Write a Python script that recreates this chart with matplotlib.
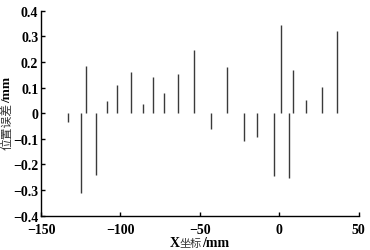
import matplotlib
matplotlib.use("Agg")
import matplotlib.pyplot as plt
import numpy as np

# positions along X (mm) and position error (mm)
x_pos = [-132.8, -125.0, -121.9, -115.4, -108.7, -102.2, -93.6, -85.6, -79.7,
         -72.4, -64.0, -53.7, -43.0, -32.8, -22.1, -13.9, -3.4, 0.85, 6.3,
         9.0, 17.2, 26.8, 36.3]
err = [-0.035, -0.312, 0.184, -0.240, 0.047, 0.112, 0.162, 0.037, 0.142,
       0.078, 0.154, 0.248, -0.061, 0.182, -0.109, -0.091, -0.246, 0.345,
       -0.255, 0.169, 0.050, 0.104, 0.323]

xticks = [-150, -100, -50, 0, 50]
yticks = [-0.4, -0.3, -0.2, -0.1, 0, 0.1, 0.2, 0.3, 0.4]
ylabels = ["\u22120.4", "\u22120.3", "\u22120.2", "\u22120.1", "0",
           "0.1", "0.2", "0.3", "0.4"]

plt.rcParams["font.family"] = ["Liberation Serif", "Noto Sans CJK SC", "DejaVu Sans"]
cjk = ["Noto Sans CJK SC", "DejaVu Sans"]

W, H = 370, 251
fig = plt.figure(figsize=(W / 100, H / 100), dpi=100)
ax = fig.add_axes([0.111, 0.137, 0.858, 0.816])

ax.vlines(x_pos, 0, err, colors="#3a3a3a", linewidth=1.0)

ax.set_xlim(-150, 50)
ax.set_ylim(-0.4, 0.4)
ax.set_xticks(xticks)
ax.set_xticklabels([str(t).replace("-", "\u2212") for t in xticks])
ax.set_yticks(yticks)
ax.set_yticklabels(ylabels)
ax.tick_params(direction="in", length=3, width=1, labelsize=10)
ax.tick_params(axis="x", pad=5)
ax.tick_params(axis="y", pad=2)
for lab in ax.get_xticklabels() + ax.get_yticklabels():
    lab.set_fontweight("bold")

ax.spines["top"].set_visible(False)
ax.spines["right"].set_visible(False)
ax.spines["left"].set_linewidth(1)
ax.spines["bottom"].set_linewidth(1)

# x label: bold latin, plain chinese
t1 = fig.text(170 / W, 1 - 244 / H, "X", fontsize=10, fontweight="bold",
              ha="left", va="center")
t2 = ax.annotate("坐标", xy=(1, 0.5), xycoords=t1, fontsize=8, family=cjk,
                 color="#333333", ha="left", va="center")
ax.annotate("/mm", xy=(1, 0.5), xycoords=t2, fontsize=10, fontweight="bold",
            ha="left", va="center")

# y label
s1 = fig.text(7 / W, 1 - 150 / H, "位置误差", fontsize=8.5, family=cjk,
              color="#333333", rotation=90, ha="center", va="bottom")
ax.annotate("/mm", xy=(0.5, 1), xycoords=s1, fontsize=9.5, fontweight="bold",
            rotation=90, ha="center", va="bottom")

plt.savefig("out.png", dpi=100)
plt.close()
